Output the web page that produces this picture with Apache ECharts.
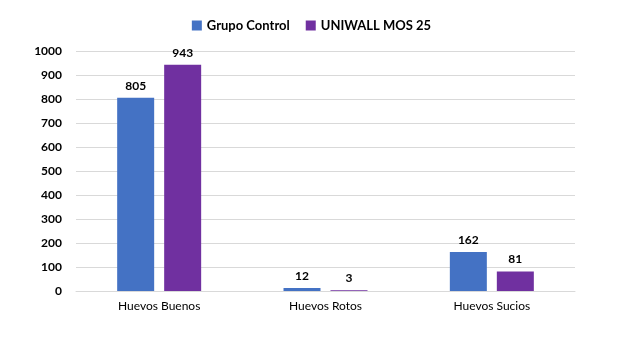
<!DOCTYPE html>
<html>
<head>
<meta charset="utf-8">
<script src="https://cdn.jsdelivr.net/npm/echarts@6/dist/echarts.min.js"></script>
<style>
html,body{margin:0;padding:0;background:#fff;}
#main{width:623px;height:352px;}
</style>
</head>
<body>
<div id="main"></div>
<script>
var categories = ['Huevos Buenos', 'Huevos Rotos', 'Huevos Sucios'];
var grupoControl = [805, 12, 162];
var uniwall = [943, 3, 81];
var seriesNames = ['Grupo Control', 'UNIWALL MOS 25'];

var font = 'Lato, "Open Sans", sans-serif';
var myChart = echarts.init(document.getElementById('main'));
var option = {
	backgroundColor: '#fff',
	animation: false,
	legend: {
		data: seriesNames,
		top: 14,
		left: 'center',
		itemWidth: 10,
		itemHeight: 10,
		itemGap: 16,
		icon: 'rect',
		textStyle: { fontFamily: font, fontWeight: 'bold', fontSize: 13, color: '#000' }
	},
	grid: { left: 76, right: 48, top: 51, bottom: 61, containLabel: false },
	xAxis: {
		type: 'category',
		data: categories,
		axisLine: { lineStyle: { color: '#d9d9d9' } },
		axisTick: { show: false },
		axisLabel: { fontFamily: font, fontSize: 12, color: '#000', margin: 9 }
	},
	yAxis: {
		type: 'value',
		min: 0,
		max: 1000,
		interval: 100,
		axisLine: { show: false },
		axisTick: { show: false },
		splitLine: { lineStyle: { color: '#d9d9d9' } },
		axisLabel: { fontFamily: font, fontSize: 12, fontWeight: 'bold', color: '#000', margin: 14,
			formatter: function (v) { return String(v); } }
	},
	series: [{
		name: seriesNames[0],
		type: 'bar',
		data: grupoControl,
		barWidth: 37,
		barGap: '27%',
		itemStyle: { color: '#4472C4' },
		label: { show: true, position: 'top', distance: 6, fontFamily: font, fontWeight: 'bold', fontSize: 12, color: '#000' }
	}, {
		name: seriesNames[1],
		type: 'bar',
		data: uniwall,
		barWidth: 37,
		itemStyle: { color: '#7030A0' },
		label: { show: true, position: 'top', distance: 6, fontFamily: font, fontWeight: 'bold', fontSize: 12, color: '#000' }
	}]
};
myChart.setOption(option);
</script>
</body>
</html>
